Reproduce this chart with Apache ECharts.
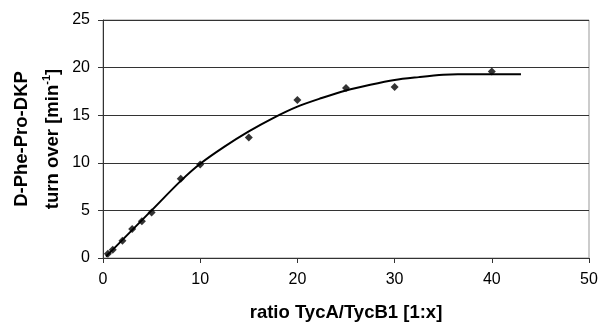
<!DOCTYPE html>
<html>
<head>
<meta charset="utf-8">
<script src="https://cdn.jsdelivr.net/npm/echarts@6/dist/echarts.min.js"></script>
<style>html,body{margin:0;padding:0;background:#fff}#c{width:600px;height:326px}</style>
</head>
<body>
<div id="c"></div>
<script>
// Measured points
const ratioX = [0.5, 1, 2, 3, 4, 5, 8, 10, 15, 20, 25, 30, 40];
const turnover = [0.45, 0.87, 1.82, 3.04, 3.85, 4.79, 8.33, 9.83, 12.67, 16.6, 17.85, 17.97, 19.6];
// Fitted curve
const fitX = [0.3, 2, 5, 8, 10, 12.5, 15, 17.5, 20, 22.5, 25, 27.5, 30, 32.5, 35, 36.5, 40, 43];
const fitY = [0.15, 1.9, 5.0, 8.1, 9.9, 11.7, 13.3, 14.7, 15.9, 16.8, 17.6, 18.2, 18.7, 19.0, 19.25, 19.3, 19.3, 19.3];
const xTicks = [0, 10, 20, 30, 40, 50];
const yTicks = [0, 5, 10, 15, 20, 25];

const chart = echarts.init(document.getElementById('c'), null, {renderer: 'canvas'});
const font = 'Liberation Sans, Arial, sans-serif';
chart.setOption({
  animation: false,
  backgroundColor: '#fff',
  grid: {left: 103, right: 11, top: 20, bottom: 68, containLabel: false, outerBoundsMode: 'none',
         show: true, borderColor: '#999', borderWidth: 1},
  xAxis: {
    type: 'value', min: xTicks[0], max: xTicks[xTicks.length - 1], interval: 10,
    name: 'ratio TycA/TycB1 [1:x]', nameLocation: 'middle', nameGap: 45, nameMoveOverlap: false,
    nameTextStyle: {fontFamily: font, fontWeight: 'bold', fontSize: 18.5, color: '#000'},
    axisLine: {lineStyle: {color: '#333', width: 1}},
    axisTick: {show: true, inside: false, length: 5, lineStyle: {color: '#333'}},
    axisLabel: {fontFamily: font, fontSize: 16, color: '#000', margin: 14},
    splitLine: {show: false}
  },
  yAxis: {
    type: 'value', min: yTicks[0], max: yTicks[yTicks.length - 1], interval: 5,
    name: '{b|D-Phe-Pro-DKP}\n{b|turn over [min}{s|-1}{b|]}', nameLocation: 'middle', nameGap: 35, nameMoveOverlap: false,
    nameTextStyle: {fontFamily: font, fontWeight: 'bold', fontSize: 18.5, color: '#000', lineHeight: 31,
      rich: {
        b: {fontFamily: font, fontWeight: 'bold', fontSize: 18.5, color: '#000', lineHeight: 31},
        s: {fontFamily: font, fontWeight: 'bold', fontSize: 11, color: '#000', lineHeight: 31, padding: [0, 0, 12, 0]}
      }},
    axisLine: {show: true, lineStyle: {color: '#333', width: 1}},
    axisTick: {show: true, inside: false, length: 5, lineStyle: {color: '#333'}},
    axisLabel: {fontFamily: font, fontSize: 16, color: '#000', margin: 13},
    splitLine: {show: true, lineStyle: {color: '#333', width: 1}}
  },
  series: [
    {
      type: 'line', data: fitX.map((x, i) => [x, fitY[i]]),
      showSymbol: false, smooth: 0.3,
      lineStyle: {color: '#000', width: 2}, z: 2
    },
    {
      type: 'scatter', data: ratioX.map((x, i) => [x, turnover[i]]),
      symbol: 'diamond', symbolSize: 8,
      itemStyle: {color: '#000'}, z: 3
    }
  ]
});
</script>
</body>
</html>
